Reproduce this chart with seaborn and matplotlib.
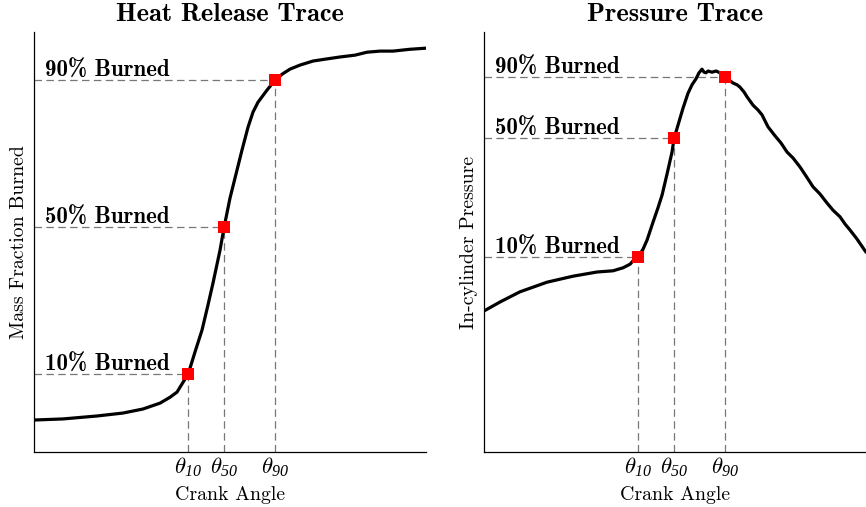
import numpy as np
import pandas as pd
import seaborn as sns
import matplotlib
matplotlib.use("Agg")
import matplotlib.pyplot as plt

# ---- data -------------------------------------------------------------
# crank angle [deg] and mass fraction burned [%]
hr_angle = [-20.0, -15.56, -10.36, -6.38, -3.32, -0.71, 0.82, 1.89, 2.65, 3.6,
            4.64, 5.72, 6.63, 7.4, 8.47, 9.1, 10.0,
            11.07, 11.84, 12.76, 13.52, 14.29, 15.67, 16.9, 17.96, 19.19, 20.72,
            22.71, 24.54, 26.84, 29.13, 30.97, 32.96, 34.95, 37.55, 40.0]
hr_mfb = [-2.5, -2.2, -1.4, -0.6, 0.5, 2.1, 3.7, 5.1, 7.3, 10.0,
          16.0, 22.0, 28.8, 34.8, 43.7, 50.0, 57.9,
          65.5, 71.0, 77.2, 81.3, 84.0, 87.3, 90.0, 91.6, 93.0, 94.1,
          95.2, 95.7, 96.3, 96.8, 97.6, 97.9, 97.9, 98.4, 98.7]

# crank angle [deg] and in-cylinder pressure [bar]
p_angle = [-20.0, -17.55, -14.49, -10.36, -6.38, -2.7, -0.25, 1.28, 2.35, 3.11,
           3.6, 4.34, 4.95, 5.87, 6.63, 7.25, 8.01, 8.78,
           9.1, 9.7, 10.46, 11.23, 11.84, 12.45, 12.91, 13.37, 13.68, 13.98,
           14.29, 14.9, 15.51, 16.12, 16.9, 17.5, 18.11, 18.73, 19.19, 19.8,
           20.26, 21.18, 21.94, 22.55, 23.47, 24.54, 25.46, 26.38, 27.3, 28.37,
           29.29, 30.36, 31.43, 32.5, 33.42, 34.49, 35.26, 36.02, 37.09, 38.47]
p_bar = [23.5, 25.0, 26.7, 28.3, 29.3, 30.0, 30.2, 30.7, 31.3, 32.2,
         32.5, 33.8, 35.3, 38.3, 40.7, 42.8, 46.3, 50.0,
         52.3, 54.5, 57.3, 59.8, 61.2, 62.2, 63.2, 63.8, 63.3, 63.2,
         63.5, 63.3, 63.5, 63.2, 62.5, 62.0, 61.5, 61.2, 60.8, 60.0,
         59.2, 57.8, 57.0, 56.2, 54.2, 52.7, 51.5, 50.0, 49.0, 47.5,
         46.0, 44.2, 43.0, 41.5, 40.3, 39.2, 38.0, 37.0, 35.5, 33.3]

# burn milestones
burn_labels = ["10% Burned", "50% Burned", "90% Burned"]
burn_angle = [3.6, 9.1, 16.9]
burn_mfb = [10.0, 50.0, 90.0]
burn_p = [32.5, 52.3, 62.5]
tick_labels = [r"$\theta_{\mathsf{10}}$", r"$\theta_{\mathsf{50}}$", r"$\theta_{\mathsf{90}}$"]

# ---- style ------------------------------------------------------------
sns.set_theme(style="white")
plt.rcParams.update({
    "font.family": ["cmr10"],
    "axes.formatter.use_mathtext": True,
    "mathtext.fontset": "custom",
    "mathtext.rm": "cmr10",
    "mathtext.it": "cmmi10",
    "mathtext.sf": "Liberation Serif:italic",
    "mathtext.fallback": "cm",
    "axes.edgecolor": "black",
    "axes.linewidth": 0.9,
    "text.color": "black",
    "axes.labelcolor": "black",
    "xtick.color": "black",
    "ytick.color": "black",
})

fig = plt.figure(figsize=(8.66, 5.07), dpi=100)
ax_hr = fig.add_axes([34 / 866, 1 - 452 / 507, 392 / 866, 420 / 507])
ax_p = fig.add_axes([484 / 866, 1 - 452 / 507, 382 / 866, 420 / 507])

RED = "#ff0000"
DASH = dict(color="#777777", lw=0.9, ls=(0, (6, 3.5)), zorder=1)
title_font = dict(family="cmb10", size=19)
ann_font = dict(family="cmb10", size=16.5)
label_size = 14.3


def burn_panel(ax, x, y, marks_y, xlim, ylim, title, ylabel):
    df = pd.DataFrame({"angle": x, "value": y})
    sns.lineplot(data=df, x="angle", y="value", ax=ax, color="black",
                 lw=2.3, sort=False, estimator=None, zorder=3)
    ax.set_xlim(*xlim)
    ax.set_ylim(*ylim)
    for lab, bx, by in zip(burn_labels, burn_angle, marks_y):
        ax.plot([xlim[0], bx], [by, by], **DASH)
        ax.plot([bx, bx], [ylim[0], by], **DASH)
        ax.annotate(lab, xy=(xlim[0], by), xytext=(8, 2.5),
                    textcoords="offset points", ha="left", va="baseline",
                    **ann_font)
    mk = pd.DataFrame({"angle": burn_angle, "value": marks_y})
    sns.scatterplot(data=mk, x="angle", y="value", ax=ax, marker="s",
                    s=80, color=RED, linewidth=0, zorder=4)
    ax.set_xticks(burn_angle)
    ax.set_xticklabels(tick_labels, fontsize=16.5)
    ax.set_yticks([])
    ax.tick_params(axis="x", length=0, pad=2)
    ax.set_xlabel("Crank Angle", fontsize=label_size, labelpad=5)
    ax.set_ylabel(ylabel, fontsize=label_size, labelpad=4)
    ax.set_title(title, pad=8, **title_font)
    sns.despine(ax=ax)


burn_panel(ax_hr, hr_angle, hr_mfb, burn_mfb, (-20, 40), (-11.2, 103.1),
           "Heat Release Trace", "Mass Fraction Burned")
burn_panel(ax_p, p_angle, p_bar, burn_p, (-20, 38.47), (0, 70),
           "Pressure Trace", "In-cylinder Pressure")

fig.savefig("out.png", dpi=100)
